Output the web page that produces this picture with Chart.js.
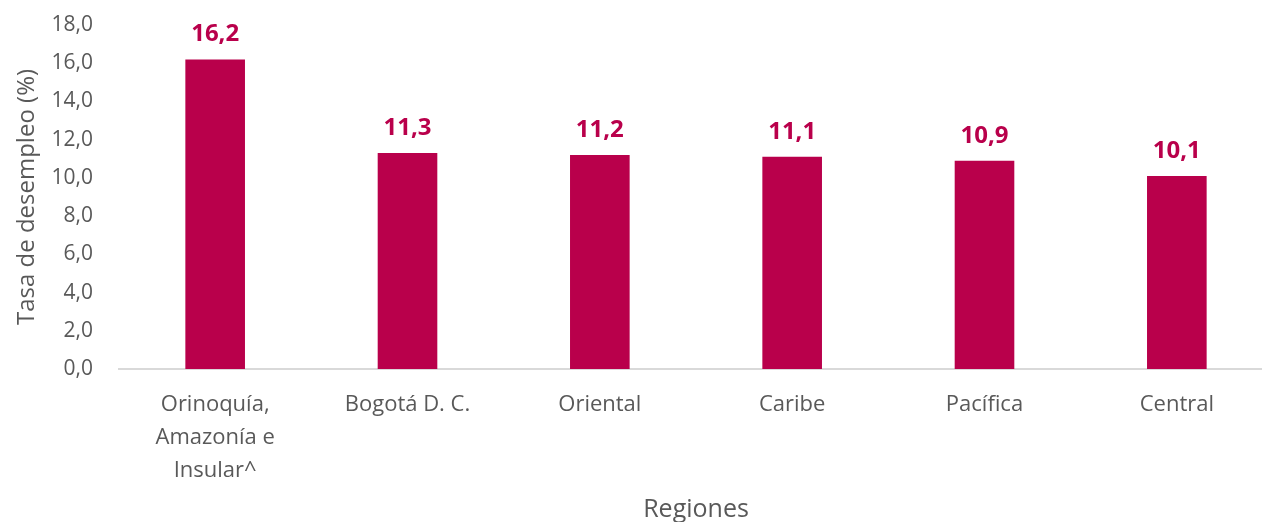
<!DOCTYPE html>
<html>
<head>
<meta charset="utf-8">
<script src="https://cdn.jsdelivr.net/npm/chart.js@4/dist/chart.umd.min.js"></script>
<style>
    html, body { margin: 0; padding: 0; background: #ffffff; overflow: hidden; width: 1262px; height: 522px; }
    #wrap { position: relative; width: 1285px; height: 535px; }
</style>
</head>
<body>
<div id="wrap"><canvas id="chart"></canvas></div>
<script>
// data
const regiones = [
    ["Orinoquía,", "Amazonía e", "Insular^"],
    "Bogotá D. C.",
    "Oriental",
    "Caribe",
    "Pacífica",
    "Central"
];
const tasaDesempleo = [16.2, 11.3, 11.2, 11.1, 10.9, 10.1];

const barColor = "#B9004B";
const textColor = "#595959";
const fontFamily = "'Open Sans', 'Noto Sans', sans-serif";

const toComma = (v) => v.toFixed(1).replace(".", ",");

// draws value labels above each bar
const valueLabels = {
    id: "valueLabels",
    afterDatasetsDraw(chart) {
        const ctx = chart.ctx;
        const meta = chart.getDatasetMeta(0);
        ctx.save();
        ctx.fillStyle = barColor;
        ctx.font = "bold 24px " + fontFamily;
        ctx.textAlign = "center";
        ctx.textBaseline = "middle";
        meta.data.forEach((bar, i) => {
            ctx.fillText(toComma(chart.data.datasets[0].data[i]), bar.x, bar.y - 25);
        });
        ctx.restore();
    }
};

new Chart(document.getElementById("chart"), {
    type: "bar",
    data: {
        labels: regiones,
        datasets: [{
            data: tasaDesempleo,
            backgroundColor: barColor,
            borderWidth: 0,
            barPercentage: 0.31,
            categoryPercentage: 1.0
        }]
    },
    options: {
        responsive: true,
        maintainAspectRatio: false,
        animation: false,
        events: [],
        layout: { padding: { top: 25, right: 12, bottom: 0, left: 0 } },
        plugins: {
            legend: { display: false },
            tooltip: { enabled: false }
        },
        scales: {
            x: {
                grid: { display: false, drawTicks: false },
                border: { display: true, color: "#d9d9d9", width: 2 },
                ticks: {
                    color: textColor,
                    font: { family: fontFamily, size: 22, lineHeight: 1.5 },
                    padding: 19,
                    maxRotation: 0,
                    autoSkip: false
                },
                title: {
                    display: true,
                    text: "Regiones",
                    color: textColor,
                    font: { family: fontFamily, size: 25 },
                    padding: { top: 0, bottom: 10 }
                },
                afterFit(scale) { scale.height = 166; }
            },
            y: {
                min: 0,
                max: 18,
                grid: { display: false, drawTicks: false },
                border: { display: false },
                ticks: {
                    stepSize: 2,
                    color: textColor,
                    font: { family: fontFamily, size: 21 },
                    padding: 26,
                    callback: (v) => toComma(v)
                },
                title: {
                    display: true,
                    text: "Tasa de desempleo (%)",
                    color: textColor,
                    font: { family: fontFamily, size: 24 },
                    padding: { top: 13, bottom: 0 }
                },
                afterFit(scale) {
                    // fixed left margin, and no extra top room from the tick padding
                    scale.width = 119;
                    scale.paddingTop = 0;
                    scale.paddingBottom = 0;
                }
            }
        }
    },
    plugins: [valueLabels]
});
</script>
</body>
</html>
